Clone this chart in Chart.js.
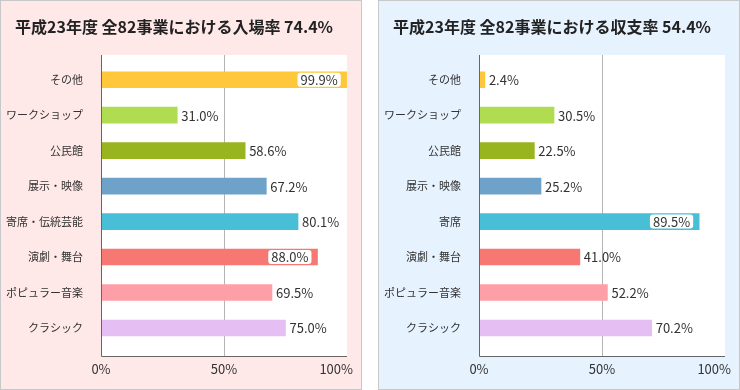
<!DOCTYPE html>
<html lang="ja">
<head>
<meta charset="utf-8">
<script src="https://cdn.jsdelivr.net/npm/chart.js@4.4.1/dist/chart.umd.min.js"></script>
<style>
  body { margin: 0; background: #fff; width: 740px; height: 390px; position: relative; overflow: hidden; }
  .panel { position: absolute; top: 0; width: 362px; height: 390px; box-sizing: border-box; border: 1px solid #c8c8c8; }
  .panel canvas { display: block; }
  #panel-left { left: 0; background: #ffe9e8; }
  #panel-right { left: 378px; background: #e6f2fe; }
</style>
</head>
<body>
<div class="panel" id="panel-left"><canvas id="chartLeft" width="360" height="388"></canvas></div>
<div class="panel" id="panel-right"><canvas id="chartRight" width="360" height="388"></canvas></div>

<script>
const FONT = '"Noto Sans CJK JP", "Noto Sans", sans-serif';

// datos
const categoriasEntrada = ['その他', 'ワークショップ', '公民館', '展示・映像', '寄席・伝統芸能', '演劇・舞台', 'ポピュラー音楽', 'クラシック'];
const categoriasBalance = ['その他', 'ワークショップ', '公民館', '展示・映像', '寄席', '演劇・舞台', 'ポピュラー音楽', 'クラシック'];
const tasaEntrada = [99.9, 31.0, 58.6, 67.2, 80.1, 88.0, 69.5, 75.0];
const tasaBalance = [2.4, 30.5, 22.5, 25.2, 89.5, 41.0, 52.2, 70.2];
const ticksX = [0, 50, 100];
const tituloEntrada = '平成23年度 全82事業における入場率 74.4%';
const tituloBalance = '平成23年度 全82事業における収支率 54.4%';

const coloresBarras = ['#ffc83c', '#b0dc52', '#98b41f', '#6fa2c9', '#48bfd6', '#f77773', '#fd9fa7', '#e5bff3'];

// fondo blanco, rejilla 50% y ejes
const marcoPlugin = {
  id: 'marco',
  beforeDraw(chart) {
    const { ctx, chartArea: a } = chart;
    ctx.save();
    ctx.fillStyle = '#fff';
    ctx.fillRect(a.left, a.top - 7, a.right - a.left, a.bottom + 11 - (a.top - 7));
    ctx.restore();
  },
  beforeDatasetsDraw(chart) {
    const { ctx, chartArea: a, scales } = chart;
    const x50 = Math.round(scales.x.getPixelForValue(50)) + 0.5;
    ctx.save();
    ctx.strokeStyle = '#b4b4b4';
    ctx.lineWidth = 1;
    ctx.beginPath();
    ctx.moveTo(x50, a.top - 7);
    ctx.lineTo(x50, a.bottom + 11);
    ctx.stroke();
    ctx.restore();
  },
  afterDatasetsDraw(chart) {
    const { ctx, chartArea: a, scales } = chart;
    const x0 = Math.round(scales.x.getPixelForValue(0)) + 0.5;
    const yEje = Math.round(a.bottom + 11) - 0.5;
    ctx.save();
    ctx.strokeStyle = '#666';
    ctx.lineWidth = 1;
    ctx.beginPath();
    ctx.moveTo(x0, a.top - 7);
    ctx.lineTo(x0, yEje);
    ctx.lineTo(a.right, yEje);
    ctx.stroke();

    // etiquetas del eje x
    ctx.fillStyle = '#333';
    ctx.font = '13px ' + FONT;
    ctx.textBaseline = 'middle';
    ticksX.forEach((v, i) => {
      const px = scales.x.getPixelForValue(v);
      if (i === ticksX.length - 1) {
        ctx.textAlign = 'right';
        ctx.fillText(v + '%', px + 6, yEje + 13);
      } else {
        ctx.textAlign = 'center';
        ctx.fillText(v + '%', px, yEje + 13);
      }
    });

    // valores de cada barra
    const meta = chart.getDatasetMeta(0);
    const valores = chart.data.datasets[0].data;
    ctx.font = '13px ' + FONT;
    meta.data.forEach((bar, i) => {
      const texto = valores[i].toFixed(1) + '%';
      const w = ctx.measureText(texto).width;
      if (bar.x + 4 + w > a.right) {
        const derecha = bar.x - 9;
        ctx.fillStyle = '#fff';
        ctx.beginPath();
        ctx.roundRect(derecha - w - 3, bar.y - 7, w + 6, 14, 3);
        ctx.fill();
        ctx.fillStyle = '#333';
        ctx.textAlign = 'right';
        ctx.fillText(texto, derecha, bar.y + 0.5);
      } else {
        ctx.fillStyle = '#333';
        ctx.textAlign = 'left';
        ctx.fillText(texto, bar.x + 4, bar.y + 0.5);
      }
    });
    ctx.restore();
  }
};

function crearGrafico(id, titulo, categorias, valores) {
  const ctx = document.getElementById(id).getContext('2d');
  return new Chart(ctx, {
    type: 'bar',
    data: {
      labels: categorias,
      datasets: [{
        data: valores,
        backgroundColor: coloresBarras,
        borderWidth: 0,
        barThickness: 16
      }]
    },
    options: {
      indexAxis: 'y',
      responsive: false,
      animation: false,
      layout: { padding: { top: 0, right: 14, bottom: 0, left: 0 } },
      plugins: {
        legend: { display: false },
        tooltip: { enabled: false },
        title: {
          display: true,
          text: titulo,
          color: '#222',
          font: { family: FONT, size: 16, weight: 'bold' },
          padding: { top: 16, bottom: 25.8 }
        }
      },
      scales: {
        x: {
          min: 0,
          max: 100,
          grid: { display: false },
          border: { display: false },
          ticks: { display: false },
          afterFit: (s) => { s.height = 43.3; }
        },
        y: {
          grid: { display: false },
          border: { display: false },
          ticks: { color: '#333', font: { family: FONT, size: 11 }, padding: 10 },
          afterFit: (s) => { s.width = 100; }
        }
      }
    },
    plugins: [marcoPlugin]
  });
}

crearGrafico('chartLeft', tituloEntrada, categoriasEntrada, tasaEntrada);
crearGrafico('chartRight', tituloBalance, categoriasBalance, tasaBalance);
</script>
</body>
</html>
